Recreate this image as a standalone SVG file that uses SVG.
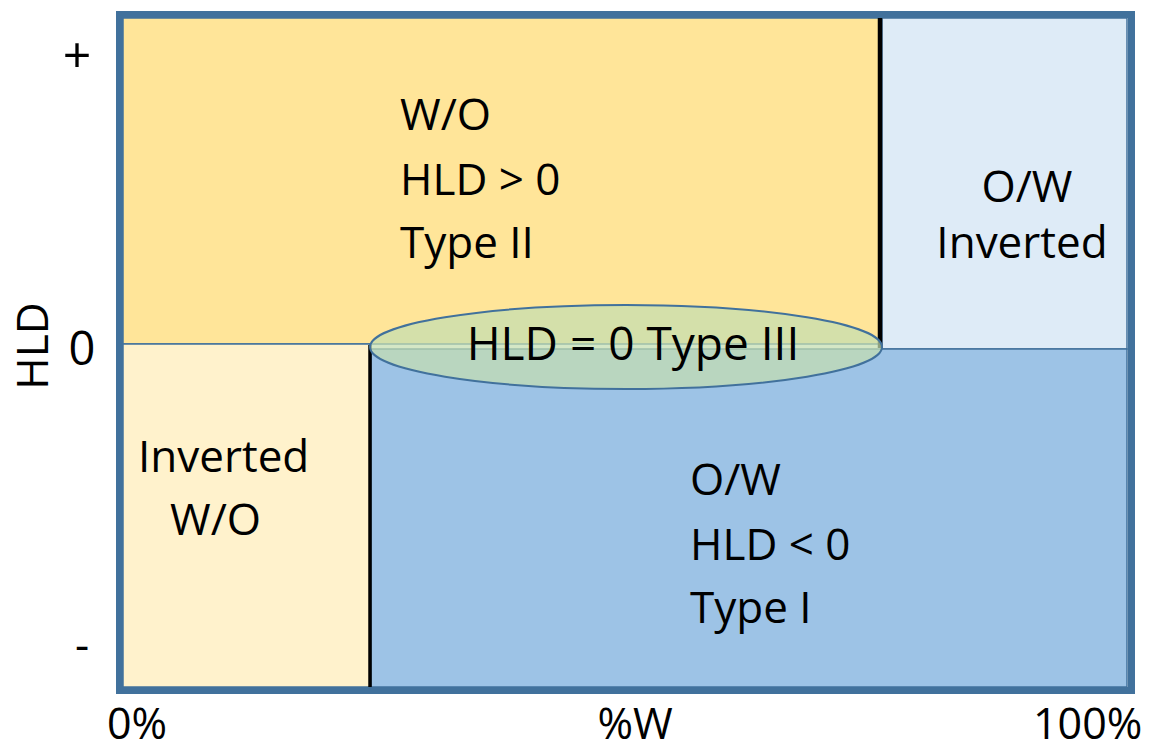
<svg xmlns="http://www.w3.org/2000/svg" width="1153" height="751" viewBox="0 0 1153 751">
<style>
text{font-family:"Open Sans","Noto Sans",sans-serif;font-size:44px;fill:#000}
.edge{stroke:#41719C;stroke-width:1.5}
.sep{stroke:#000;fill:none}
.xl{font-size:43px}
</style>
<rect width="1153" height="751" fill="#fff"/>
<g id="typeII">
<rect class="edge" x="123" y="18" width="757" height="326" fill="#FFE599"/>
<text x="400" y="130">W/O</text>
<text x="400" y="195">HLD &gt; 0</text>
<text x="400" y="258">Type II</text>
</g>
<g id="ow-inverted">
<rect class="edge" x="882" y="18" width="245" height="331" fill="#DEEBF7"/>
<text x="1027" y="202" text-anchor="middle">O/W</text>
<text x="1022" y="258" text-anchor="middle">Inverted</text>
</g>
<g id="wo-inverted">
<rect class="edge" x="123" y="344" width="247" height="343" fill="#FFF2CC"/>
<text x="138" y="472">Inverted</text>
<text x="170" y="535">W/O</text>
</g>
<g id="typeI">
<rect class="edge" x="371" y="349" width="756" height="338" fill="#9DC3E6"/>
<text x="690" y="495">O/W</text>
<text x="690" y="560">HLD &lt; 0</text>
<text x="690" y="623">Type I</text>
</g>
<g id="connectors">
<line class="sep" x1="880" y1="18" x2="880" y2="348" stroke-width="4.5"/>
<line class="sep" x1="370" y1="345" x2="370" y2="687" stroke-width="3.5"/>
</g>
<g id="typeIII">
<ellipse cx="626" cy="347" rx="256" ry="42" fill="#C3DEB0" fill-opacity="0.72" stroke="#41719C" stroke-width="2"/>
<text x="633" y="360" text-anchor="middle" style="font-size:46px">HLD = 0 Type III</text>
</g>
<rect id="frame" x="119.5" y="14.5" width="1012" height="676" fill="none" stroke="#41719C" stroke-width="7"/>
<g id="axes">
<text x="77" y="73" text-anchor="middle" style="font-size:50px">+</text>
<text x="82" y="365" text-anchor="middle" style="font-size:47px">0</text>
<text x="82" y="660" text-anchor="middle">-</text>
<text transform="translate(48,346) rotate(-90)" text-anchor="middle">HLD</text>
<text class="xl" x="107" y="739">0%</text>
<text class="xl" x="635" y="739" text-anchor="middle">%W</text>
<text class="xl" x="1033" y="739">100%</text>
</g>
</svg>
